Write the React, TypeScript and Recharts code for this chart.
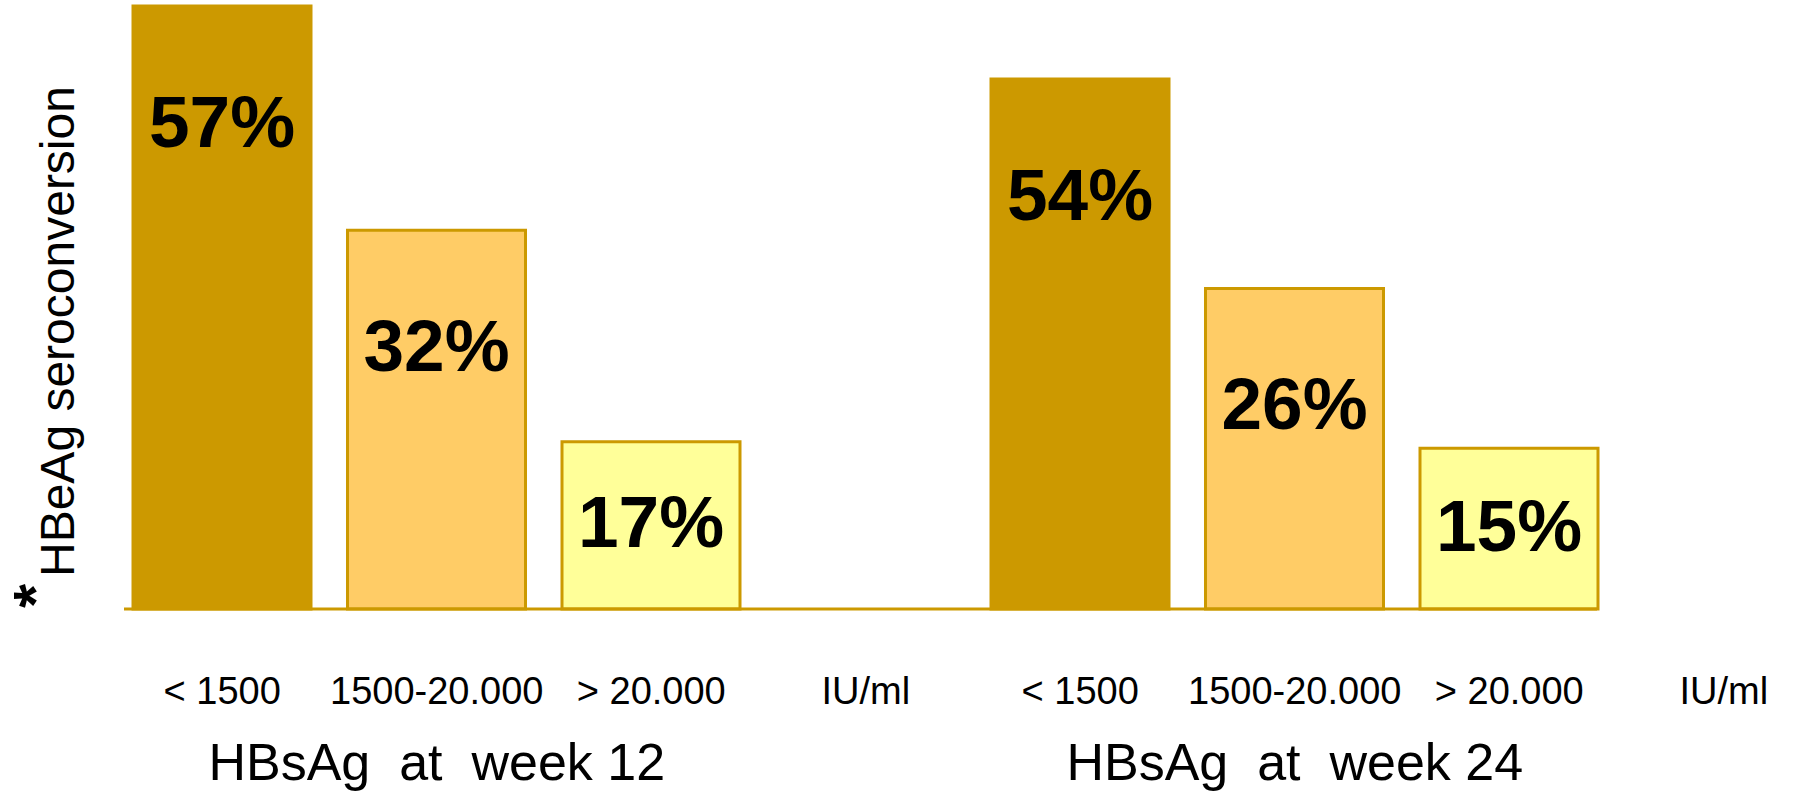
import React from 'react';
import { BarChart, Bar, XAxis, YAxis, Cell, LabelList } from 'recharts';

// slots along the x axis: 3 bars + unit label per week
const tickLabels = ['< 1500', '1500-20.000', '> 20.000', 'IU/ml', '< 1500', '1500-20.000', '> 20.000', 'IU/ml'];
// percentages printed on the bars
const shownPct = [57, 32, 17, null, 54, 26, 15, null];
// bar heights as drawn in the picture (same unit as the 57% bar)
const barHeights = [57, 35.8, 15.8, null, 50.1, 30.3, 15.2, null];
const groupTitles = ['HBsAg  at  week 12', 'HBsAg  at  week 24'];
const titleSlots = [1, 5];

const GOLD = '#CC9900';
const barFills = [GOLD, '#FFCC66', '#FFFF99', GOLD, GOLD, '#FFCC66', '#FFFF99', GOLD];
const FONT = '"Liberation Sans", Arial, Helvetica, sans-serif';

const rows = tickLabels.map((tick, i) => {
  const t = titleSlots.indexOf(i);
  return {
    tick,
    height: barHeights[i],
    pct: shownPct[i],
    title: t >= 0 ? groupTitles[t] : '',
  };
});

const SlotTick = (props: any) => {
  const { x, y, payload, index } = props;
  const row = rows[index];
  return (
    <g>
      <text x={x} y={y + 95} textAnchor="middle" fontFamily={FONT} fontSize={38} fill="#000">
        {payload.value}
      </text>
      {row && row.title ? (
        <text
          x={x}
          y={y + 171}
          textAnchor="middle"
          fontFamily={FONT}
          fontSize={52}
          fill="#000"
          style={{ whiteSpace: 'pre' }}
        >
          {row.title}
        </text>
      ) : null}
    </g>
  );
};

const PctLabel = (props: any) => {
  const { x, y, width, height, value } = props;
  if (value == null) return null;
  const centre = y + Math.min(114, height * 0.47);
  return (
    <text
      x={x + width / 2}
      y={centre + 27}
      textAnchor="middle"
      fontFamily={FONT}
      fontWeight="bold"
      fontSize={73}
      fill="#000"
    >
      {value}%
    </text>
  );
};

const YLabel = () => (
  <g>
    <text
      x={56}
      y={608}
      transform="rotate(-90, 56, 608)"
      fontFamily={FONT}
      fontWeight="bold"
      fontSize={62}
      fill="#000"
    >
      *
    </text>
    <text
      x={74}
      y={577}
      transform="rotate(-90, 74, 577)"
      fontFamily={FONT}
      fontSize={48}
      fill="#000"
    >
      HBeAg seroconversion
    </text>
  </g>
);

export default function App() {
  return (
    <div style={{ position: 'absolute', left: 0, top: 0, background: '#fff' }}>
      <BarChart
        width={1807}
        height={792}
        data={rows}
        margin={{ top: 6, right: 210, bottom: 0, left: 0 }}
      >
        <XAxis
          dataKey="tick"
          interval={0}
          height={183}
          padding={{ left: -9, right: -234 }}
          tickLine={false}
          tickSize={0}
          tickMargin={0}
          axisLine={{ stroke: GOLD, strokeWidth: 3 }}
          tick={<SlotTick />}
        />
        <YAxis
          domain={[0, 57]}
          width={124}
          tick={false}
          tickLine={false}
          axisLine={false}
          label={<YLabel />}
        />
        <Bar dataKey="height" barSize={178} stroke={GOLD} strokeWidth={3} isAnimationActive={false}>
          {rows.map((r, i) => (
            <Cell key={i} fill={barFills[i]} />
          ))}
          <LabelList dataKey="pct" content={<PctLabel />} />
        </Bar>
      </BarChart>
    </div>
  );
}
